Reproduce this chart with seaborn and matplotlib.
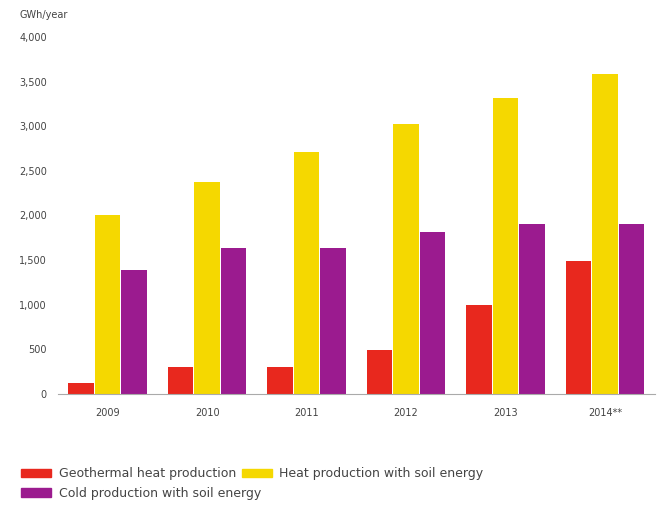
import numpy as np
import pandas as pd
import matplotlib.pyplot as plt
import seaborn as sns

years = ["2009", "2010", "2011", "2012", "2013", "2014**"]
geothermal = [120, 300, 300, 490, 1000, 1490]
heat_soil = [2010, 2380, 2710, 3030, 3320, 3590]
cold_soil = [1390, 1640, 1640, 1820, 1910, 1910]

series = ["Geothermal heat production", "Heat production with soil energy",
          "Cold production with soil energy"]
colors = ["#e8281e", "#f5d800", "#9b1b8f"]

df = pd.DataFrame({
    "year": years * 3,
    "value": geothermal + heat_soil + cold_soil,
    "series": [series[0]] * 6 + [series[1]] * 6 + [series[2]] * 6,
})

sns.set_style("white")
fig = plt.figure(figsize=(6.58, 5.07), dpi=100)
ax = fig.add_axes([0.088, 0.223, 0.907, 0.704])

sns.barplot(data=df, x="year", y="value", hue="series", palette=colors,
            width=0.8, gap=0.04, saturation=1, linewidth=0, ax=ax, legend=False)

ax.set_ylim(0, 4000)
ax.set_xlim(-0.5, 5.5)
ax.set_yticks(np.arange(0, 4001, 500))
ax.set_yticklabels([f"{v:,}" for v in range(0, 4001, 500)])
ax.set_xlabel("")
ax.set_ylabel("")
sns.despine(ax=ax, left=True)
ax.spines["bottom"].set_color("#aaaaaa")
ax.tick_params(axis="both", labelsize=7, colors="#444444", length=0, pad=8)
ax.tick_params(axis="x", pad=10)

fig.text(0.03, 0.965, "GWh/year", fontsize=7, color="#444444")

# legend: geothermal + cold on the left, heat squeezed in next to geothermal
handles = [plt.Rectangle((0, 0), 1, 1, color=c) for c in colors]
kw = dict(frameon=False, fontsize=9, handlelength=2.4, handleheight=0.7,
          labelcolor="#444444", handletextpad=0.6, labelspacing=0.5,
          borderaxespad=0)
leg1 = fig.legend([handles[0], handles[2]], [series[0], series[2]],
                  loc="upper left", bbox_to_anchor=(0.025, 0.088), **kw)
fig.legend([handles[1]], [series[1]],
           loc="upper left", bbox_to_anchor=(0.36, 0.088), **kw)

fig.savefig("out.png", dpi=100)
